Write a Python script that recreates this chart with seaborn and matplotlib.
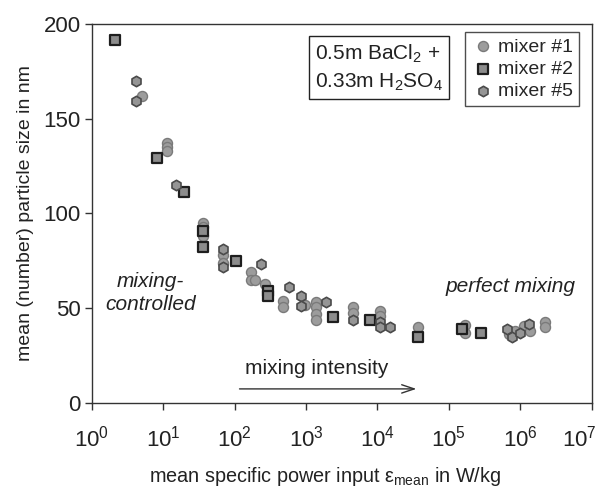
import matplotlib
matplotlib.use("Agg")
import matplotlib.pyplot as plt
import matplotlib.transforms as mtransforms
import seaborn as sns
import pandas as pd

# mixer #1 (circles)
m1_eps = [5.0, 11.3, 11.3, 11.3, 36, 36, 36, 69, 69, 168, 168, 195, 268, 470, 470,
          975, 1380, 1380, 1380, 1380, 4550, 4550, 10950, 10950, 36500, 171000, 171000,
          690000, 850000, 1.12e6, 1.35e6, 2.24e6, 2.24e6]
m1_size = [162, 137, 135, 133, 95, 93, 88, 78, 74, 69, 65, 65, 62.5, 54, 50.5,
           51.5, 53, 50.5, 47, 44, 50.5, 47.5, 48.5, 46, 40, 41, 37,
           36.5, 38, 40.5, 38, 42.5, 40]
# mixer #2 (squares)
m2_eps = [2.1, 8.3, 19.5, 36, 36, 104, 290, 290, 2390, 7930, 36500, 155000, 283000]
m2_size = [191.5, 129, 111, 90.5, 82.5, 75, 59, 56.5, 45.5, 44, 35, 39, 37]
# mixer #5 (hexagons)
m5_eps = [4.1, 4.1, 15.2, 69, 69, 235, 570, 845, 845, 1920, 4550, 10950, 10950,
          15100, 660000, 770000, 985000, 1.31e6]
m5_size = [170, 159, 115, 81, 71.5, 73.5, 61, 56.5, 51, 53, 43.5, 42.5, 40,
           40, 39, 35, 37, 41.5]

mixers = ["mixer #1", "mixer #2", "mixer #5"]
df = pd.concat([
    pd.DataFrame({"eps": m1_eps, "size": m1_size, "mixer": mixers[0]}),
    pd.DataFrame({"eps": m2_eps, "size": m2_size, "mixer": mixers[1]}),
    pd.DataFrame({"eps": m5_eps, "size": m5_size, "mixer": mixers[2]}),
])

styles = {
    "mixer #1": dict(marker="o", color="#9c9c9c", edgecolor="#7a7a7a", s=52, linewidth=1.0),
    "mixer #2": dict(marker="s", color="#8c8c8c", edgecolor="#1e1e1e", s=42, linewidth=1.6),
    "mixer #5": dict(marker="h", color="#959595", edgecolor="#4a4a4a", s=56, linewidth=1.2),
}

sns.set_style("ticks")
plt.rcParams["font.family"] = ["Liberation Sans", "DejaVu Sans"]
plt.rcParams["mathtext.fontset"] = "custom"
plt.rcParams["mathtext.rm"] = "Liberation Sans"
plt.rcParams["mathtext.it"] = "Liberation Sans:italic"

fig = plt.figure(figsize=(6, 4.95), dpi=100)
ax = fig.add_axes([0.153, 0.186, 0.833, 0.766])

for name in mixers:
    sns.scatterplot(data=df[df["mixer"] == name], x="eps", y="size", ax=ax,
                    label=name, zorder=3, **styles[name])

ax.set_xscale("log")
ax.set_xlim(1, 1e7)
ax.set_ylim(0, 200)
ax.set_yticks([0, 50, 100, 150, 200])
ax.minorticks_off()
ax.set_xticks([10 ** k for k in range(8)])
for sp in ax.spines.values():
    sp.set_color("#333333")
    sp.set_linewidth(1.0)
ax.tick_params(direction="out", length=5, width=1, color="#333333",
               labelsize=16, labelcolor="#222222")
ax.tick_params(axis="x", pad=11)
ax.tick_params(axis="y", pad=3)

ax.set_xlabel("mean specific power input ε$_{\\mathrm{mean}}$ in W/kg",
              fontsize=14.3, color="#222222")
ax.xaxis.set_label_coords(0.466, -0.165)
ax.set_ylabel("mean (number) particle size in nm", fontsize=14, color="#222222",
              labelpad=7)

leg = ax.legend(loc="upper right", bbox_to_anchor=(0.975, 0.978), fontsize=14,
                frameon=True, fancybox=False, edgecolor="#222222",
                handletextpad=0.2, borderpad=0.3, labelspacing=0.25,
                handlelength=1.2, borderaxespad=0)
leg.get_frame().set_linewidth(1.0)

ax.text(0.447, 0.884, "0.5m BaCl$_2$ +\n0.33m H$_2$SO$_4$", transform=ax.transAxes,
        fontsize=15, color="#222222", va="center", ha="left", linespacing=1.45,
        bbox=dict(boxstyle="square,pad=0.3", fc="white", ec="#222222", lw=1.0))

ax.text(0.118, 0.29, "mixing-\ncontrolled", transform=ax.transAxes, fontsize=15,
        style="italic", color="#222222", ha="center", va="center", linespacing=1.25)
ax.text(0.837, 0.306, "perfect mixing", transform=ax.transAxes, fontsize=15,
        style="italic", color="#222222", ha="center", va="center")
ax.text(0.45, 0.09, "mixing intensity", transform=ax.transAxes, fontsize=15,
        color="#222222", ha="center", va="center")
ax.annotate("", xy=(0.655, 0.037), xytext=(0.29, 0.037), xycoords="axes fraction",
            arrowprops=dict(arrowstyle="->,head_length=0.9,head_width=0.3",
                            color="#333333", lw=1.0))

# last x tick label sits against the figure edge in the original
fig.canvas.draw()
last = ax.xaxis.get_major_ticks()[-1].label1
last.set_transform(last.get_transform()
                   + mtransforms.ScaledTranslation(-9 / 72, 0, fig.dpi_scale_trans))

fig.savefig("out.png", dpi=100)
